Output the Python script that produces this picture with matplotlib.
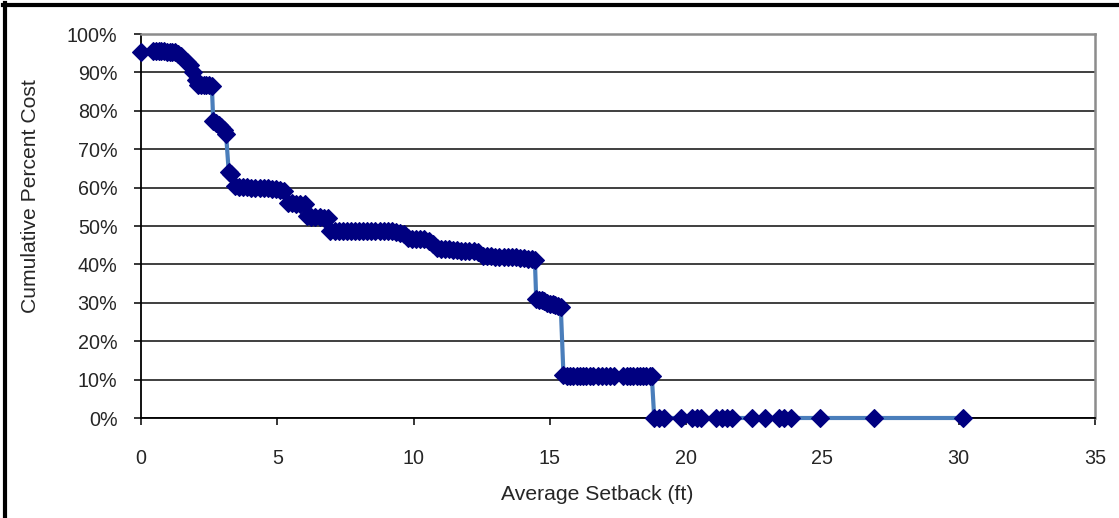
import matplotlib
matplotlib.use("Agg")
import matplotlib.pyplot as plt
from matplotlib.lines import Line2D
from matplotlib.ticker import FuncFormatter

# Average setback (ft) and cumulative percent cost (%)
setback = [
    0.00,
    0.45, 0.55, 0.65, 0.75, 0.85, 0.95, 1.05, 1.15, 1.25, 1.35, 1.45,
    1.60, 1.70, 1.80, 1.90, 2.00,
    2.10, 2.20, 2.30, 2.40, 2.50, 2.60,
    2.65, 2.75, 2.85, 2.95, 3.05, 3.12,
    3.22, 3.32,
    3.45, 3.60, 3.75, 3.90, 4.05, 4.20, 4.35, 4.50, 4.65, 4.80, 4.95, 5.10, 5.25,
    5.40, 5.55, 5.70, 5.85, 6.00,
    6.10, 6.25, 6.40, 6.55, 6.70, 6.85,
    6.95, 7.10, 7.25, 7.40, 7.55, 7.70, 7.85, 8.00, 8.15, 8.30, 8.45, 8.60,
    8.75, 8.90, 9.05, 9.20, 9.35, 9.50, 9.65,
    9.80, 9.95, 10.10, 10.25, 10.40, 10.55, 10.70,
    10.85, 11.00, 11.15, 11.30, 11.45, 11.60, 11.75, 11.90, 12.05, 12.20, 12.35,
    12.55, 12.70, 12.85, 13.00, 13.15, 13.30, 13.45, 13.60, 13.75, 13.90, 14.05,
    14.20, 14.35, 14.45,
    14.50, 14.60, 14.70, 14.80, 14.90, 15.00, 15.10, 15.20, 15.30, 15.40,
    15.50, 15.62, 15.74, 15.86, 15.98, 16.10, 16.22, 16.34, 16.46, 16.58,
    16.75, 16.90, 17.05, 17.20, 17.35, 17.70, 17.82, 17.94, 18.06, 18.18,
    18.30, 18.42, 18.54, 18.66, 18.74,
    18.83, 19.00, 19.20, 19.80, 20.20, 20.40, 20.55, 21.10, 21.30, 21.50,
    21.70, 22.40, 22.90, 23.40, 23.60, 23.85, 24.90, 26.90, 30.15,
]
cum_cost = [
    95.4,
    95.5, 95.5, 95.5, 95.5, 95.5, 95.4, 95.4, 95.3, 95.2, 94.9, 94.3,
    93.0, 92.6, 92.0, 90.0, 88.0,
    86.8, 86.8, 86.7, 86.7, 86.6, 86.5,
    77.3, 76.8, 76.2, 75.7, 75.0, 74.0,
    64.0, 63.6,
    60.3, 60.2, 60.1, 60.1, 60.0, 60.0, 60.0, 59.9, 59.8, 59.7, 59.6, 59.5, 59.2,
    56.0, 55.9, 55.8, 55.8, 55.6,
    52.5, 52.4, 52.3, 52.3, 52.2, 52.0,
    48.8, 48.8, 48.8, 48.8, 48.8, 48.8, 48.7, 48.7, 48.7, 48.7, 48.7, 48.7,
    48.7, 48.6, 48.6, 48.6, 48.5, 48.3, 47.8,
    46.8, 46.7, 46.7, 46.6, 46.5, 46.0, 45.2,
    44.2, 44.1, 44.0, 43.9, 43.8, 43.7, 43.6, 43.5, 43.5, 43.4, 43.2,
    42.3, 42.2, 42.1, 42.0, 42.0, 41.9, 41.9, 41.8, 41.8, 41.7, 41.6,
    41.5, 41.4, 41.2,
    30.9, 30.8, 30.6, 30.4, 30.0, 29.8, 29.6, 29.4, 29.2, 29.0,
    11.1, 11.0, 11.0, 11.0, 11.0, 11.0, 11.0, 11.0, 11.0, 11.0,
    11.0, 11.0, 11.0, 11.0, 11.0, 10.9, 10.9, 10.9, 10.9, 10.9,
    10.9, 10.9, 10.9, 10.9, 10.9,
    0, 0, 0, 0, 0, 0, 0, 0, 0, 0,
    0, 0, 0, 0, 0, 0, 0, 0, 0,
]

x_ticks = [0, 5, 10, 15, 20, 25, 30, 35]
y_ticks = [0, 10, 20, 30, 40, 50, 60, 70, 80, 90, 100]
x_label = "Average Setback (ft)"
y_label = "Cumulative Percent Cost"

plt.rcParams['font.family'] = ['Liberation Sans', 'DejaVu Sans']
W, H = 1119, 518
fig = plt.figure(figsize=(W / 100, H / 100), dpi=100)
fig.patch.set_facecolor('white')

L, R, T, B = 141, 1095, 34, 418
ax = fig.add_axes([L / W, 1 - B / H, (R - L) / W, (B - T) / H])

ax.plot(setback, cum_cost, color='#4A7EBB', lw=3.0, zorder=3, clip_on=False)
ax.plot(setback, cum_cost, ls='none', marker='D', ms=9.0, mfc='#000080',
        mec='#000080', mew=0.8, zorder=4, clip_on=False)

ax.set_xlim(0, 35)
ax.set_ylim(0, 100)
ax.set_xticks(x_ticks)
ax.set_yticks(y_ticks)
ax.yaxis.set_major_formatter(FuncFormatter(lambda v, p: f"{int(round(v))}%"))

ax.grid(axis='y', color='#303030', lw=1.3, zorder=1)
ax.set_axisbelow(True)

for s in ['left', 'bottom']:
    ax.spines[s].set_color('#000000')
    ax.spines[s].set_linewidth(1.3)
for s in ['top', 'right']:
    ax.spines[s].set_color('#8c8c8c')
    ax.spines[s].set_linewidth(1.8)

ax.tick_params(axis='both', direction='out', length=5, width=1.1, color='#000000',
               labelsize=14.2, labelcolor='#262626')
ax.tick_params(axis='y', pad=12)
ax.tick_params(axis='x', pad=17)

fig.text(597 / W, 1 - 494 / H, x_label, ha='center', va='center',
         fontsize=15.2, color='#262626')
fig.text(31 / W, 1 - 196 / H, y_label, ha='center', va='center',
         rotation=90, fontsize=15.2, color='#262626')

# outer frame (top and left only)
fig.add_artist(Line2D([3 / W, 1.0], [1 - 4.5 / H, 1 - 4.5 / H],
                      transform=fig.transFigure, color='black', lw=3))
fig.add_artist(Line2D([4.5 / W, 4.5 / W], [0.0, 1 - 3 / H],
                      transform=fig.transFigure, color='black', lw=3))

fig.savefig('out.png', dpi=100, facecolor='white')
